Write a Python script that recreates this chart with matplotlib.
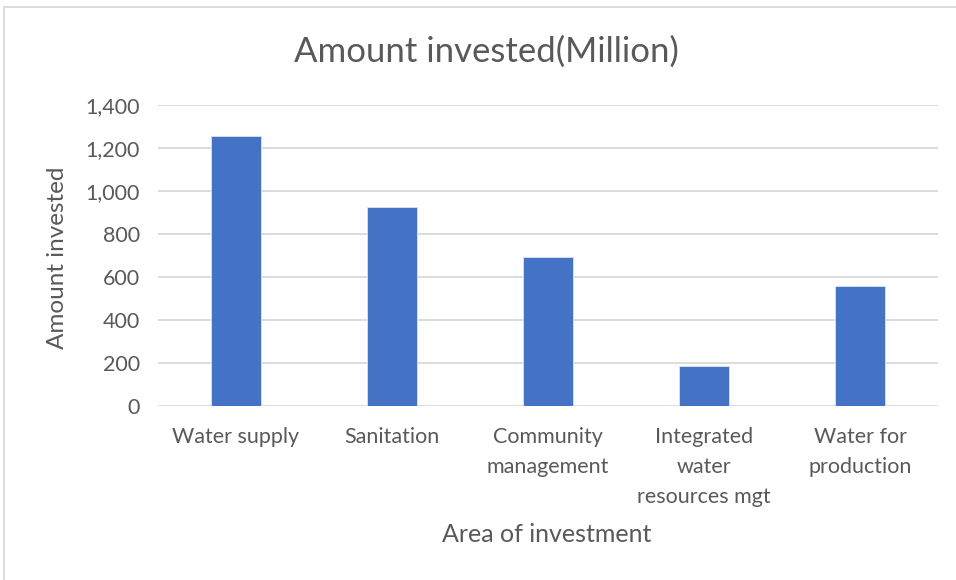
import matplotlib
matplotlib.use("Agg")
import matplotlib.pyplot as plt
from matplotlib.patches import Rectangle
from matplotlib.ticker import FuncFormatter

categories = ["Water supply", "Sanitation", "Community\nmanagement",
              "Integrated\nwater\nresources mgt", "Water for\nproduction"]
values = [1255, 925, 692, 185, 558]
yticks = [0, 200, 400, 600, 800, 1000, 1200, 1400]

plt.rcParams['font.family'] = ['Lato', 'DejaVu Sans']
txt = '#595959'

fig = plt.figure(figsize=(9.56, 5.80), dpi=100)
fig.patch.set_facecolor('white')
fig.patches.append(Rectangle((4/956, -0.1), 1.2, 1.1 - 7/580, transform=fig.transFigure,
                             fill=False, edgecolor='#D9D9D9', linewidth=1.3))

ax = fig.add_axes([158/956, 1 - 406/580, (938 - 158)/956, (406 - 105)/580])
x = range(len(categories))
ax.bar(x, values, width=0.315, color='#4472C4', edgecolor='#DCE4F5', linewidth=0.6, zorder=3)
ax.set_xlim(-0.5, len(categories) - 0.5)
ax.set_ylim(0, 1400)
ax.set_yticks(yticks)
ax.yaxis.set_major_formatter(FuncFormatter(lambda v, p: f"{int(v):,}"))
ax.set_xticks(list(x))
ax.set_xticklabels(categories, linespacing=1.64, va='top')
ax.tick_params(axis='both', length=0, labelsize=15.5, colors=txt)
ax.tick_params(axis='x', pad=15)
ax.tick_params(axis='y', pad=13)
ax.grid(axis='y', color='#D9D9D9', linewidth=1.3, zorder=0)
for s in ax.spines.values():
    s.set_visible(False)
ax.set_axisbelow(True)

fig.text(58/956, 1 - 258/580, "Amount invested", fontsize=17.5, color=txt,
         ha='center', va='center', rotation=90)
fig.text(547/956, 1 - 535/580, "Area of investment", fontsize=18, color=txt,
         ha='center', va='center')
fig.text(486/956, 1 - 52/580, "Amount invested(Million)", fontsize=25, color=txt,
         ha='center', va='center')

fig.savefig("out.png", dpi=100)
